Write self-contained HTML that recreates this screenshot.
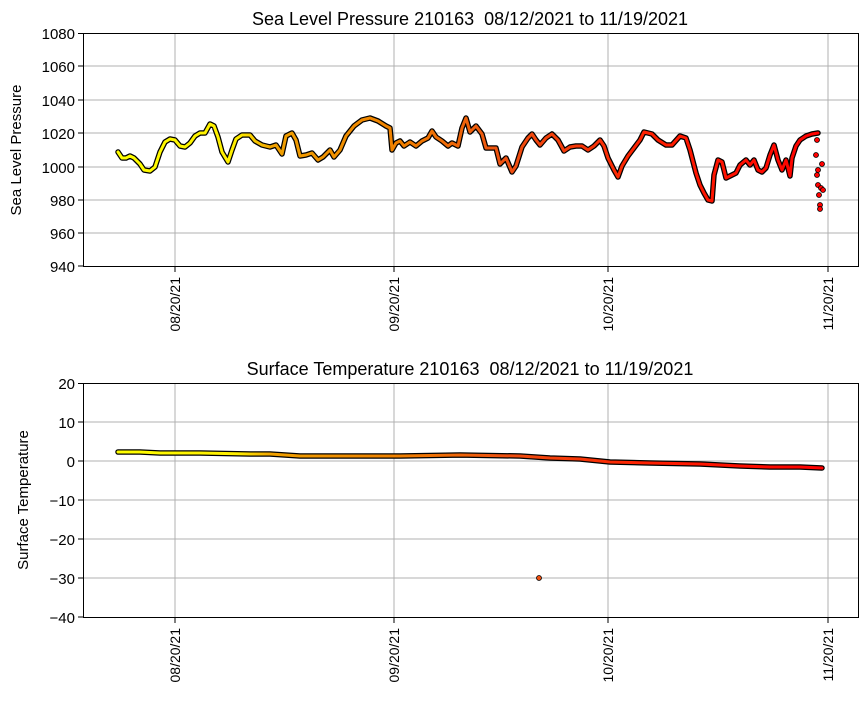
<!DOCTYPE html>
<html><head><meta charset="utf-8"><style>
body{margin:0;background:#fff}
svg text{font-family:"Liberation Sans","DejaVu Sans",sans-serif;fill:#000}
</style></head><body>
<svg width="867" height="700" xmlns="http://www.w3.org/2000/svg">
<defs>
<linearGradient id="g" gradientUnits="userSpaceOnUse" x1="118" y1="0" x2="822" y2="0">
<stop offset="0" stop-color="#ffff00"/><stop offset="0.17" stop-color="#ffee00"/>
<stop offset="0.22" stop-color="#f0a000"/><stop offset="0.4" stop-color="#f08000"/>
<stop offset="0.55" stop-color="#ee5010"/><stop offset="0.75" stop-color="#ff2000"/>
<stop offset="1" stop-color="#ff0000"/></linearGradient>
</defs>
<rect width="867" height="700" fill="#fff"/>
<g stroke="#b0b0b0" stroke-width="1">
<line x1="83" x2="858" y1="66" y2="66"/><line x1="83" x2="858" y1="100" y2="100"/><line x1="83" x2="858" y1="133" y2="133"/><line x1="83" x2="858" y1="167" y2="167"/><line x1="83" x2="858" y1="200" y2="200"/><line x1="83" x2="858" y1="233" y2="233"/>
<line x1="175" x2="175" y1="33" y2="266"/><line x1="394" x2="394" y1="33" y2="266"/><line x1="608" x2="608" y1="33" y2="266"/><line x1="828" x2="828" y1="33" y2="266"/>
<line x1="83" x2="858" y1="422" y2="422"/><line x1="83" x2="858" y1="461" y2="461"/><line x1="83" x2="858" y1="500" y2="500"/><line x1="83" x2="858" y1="539" y2="539"/><line x1="83" x2="858" y1="578" y2="578"/>
<line x1="175" x2="175" y1="383" y2="617"/><line x1="394" x2="394" y1="383" y2="617"/><line x1="608" x2="608" y1="383" y2="617"/><line x1="828" x2="828" y1="383" y2="617"/>
</g>
<g fill="none" stroke-linejoin="round" stroke-linecap="round">
<polyline stroke="#000" stroke-width="5.5" points="118,152 122,158 126,158 130,156 134,158 140,164 144,170 150,171 155,167 160,152 165,142 170,139 175,140 180,146 185,147 190,143 195,136 200,133 205,133 210,124 214,126 218,137 222,152 228,162 232,150 236,139 242,135 250,135 255,141 262,145 270,147 276,145 282,154 286,136 292,133 296,140 300,156 306,155 312,153 318,160 323,157 330,150 334,157 340,150 346,136 354,126 362,120 370,118 378,121 386,126 390,128 392,150 396,143 400,141 404,146 410,142 416,146 422,141 428,138 432,131 436,137 442,141 448,146 452,143 458,146 462,128 466,118 470,132 476,126 482,134 486,148 496,148 500,164 506,158 512,172 516,166 522,147 528,138 532,134 536,140 540,145 546,138 552,134 558,140 564,151 570,147 576,146 582,146 588,150 594,146 600,140 604,146 608,158 614,170 618,177 622,166 628,156 634,148 640,140 644,132 652,134 658,140 666,145 672,145 680,136 686,138 690,150 696,173 700,185 704,193 708,200 712,201 714,175 718,160 722,162 726,178 730,176 736,173 740,165 746,160 750,165 754,160 758,170 762,172 766,168 770,155 774,145 778,160 782,170 786,160 790,176 792,158 796,146 800,140 806,136 812,134 818,133"/>
<polyline stroke="url(#g)" stroke-width="3" points="118,152 122,158 126,158 130,156 134,158 140,164 144,170 150,171 155,167 160,152 165,142 170,139 175,140 180,146 185,147 190,143 195,136 200,133 205,133 210,124 214,126 218,137 222,152 228,162 232,150 236,139 242,135 250,135 255,141 262,145 270,147 276,145 282,154 286,136 292,133 296,140 300,156 306,155 312,153 318,160 323,157 330,150 334,157 340,150 346,136 354,126 362,120 370,118 378,121 386,126 390,128 392,150 396,143 400,141 404,146 410,142 416,146 422,141 428,138 432,131 436,137 442,141 448,146 452,143 458,146 462,128 466,118 470,132 476,126 482,134 486,148 496,148 500,164 506,158 512,172 516,166 522,147 528,138 532,134 536,140 540,145 546,138 552,134 558,140 564,151 570,147 576,146 582,146 588,150 594,146 600,140 604,146 608,158 614,170 618,177 622,166 628,156 634,148 640,140 644,132 652,134 658,140 666,145 672,145 680,136 686,138 690,150 696,173 700,185 704,193 708,200 712,201 714,175 718,160 722,162 726,178 730,176 736,173 740,165 746,160 750,165 754,160 758,170 762,172 766,168 770,155 774,145 778,160 782,170 786,160 790,176 792,158 796,146 800,140 806,136 812,134 818,133"/>
<polyline stroke="#000" stroke-width="5.5" points="118,452 140,452 160,453 200,453 250,454 270,454 300,456 350,456 400,456 460,455 520,456 550,458 580,459 610,462 650,463 700,464 740,466 770,467 800,467 822,468"/>
<polyline stroke="url(#g)" stroke-width="3" points="118,452 140,452 160,453 200,453 250,454 270,454 300,456 350,456 400,456 460,455 520,456 550,458 580,459 610,462 650,463 700,464 740,466 770,467 800,467 822,468"/>
</g>
<g fill="#f00" stroke="#000" stroke-width="0.8">
<circle cx="539" cy="578" r="2.5" fill="#ee5010"/>
<circle cx="817" cy="140" r="2.5"/><circle cx="816" cy="155" r="2.5"/><circle cx="817" cy="175" r="2.5"/><circle cx="818" cy="185" r="2.5"/><circle cx="819" cy="195" r="2.5"/><circle cx="820" cy="205" r="2.5"/><circle cx="820" cy="209" r="2.5"/><circle cx="821" cy="188" r="2.5"/><circle cx="823" cy="190" r="2.5"/><circle cx="822" cy="164" r="2.5"/><circle cx="818" cy="170" r="2.5"/>
</g>
<rect x="83.5" y="33.5" width="775" height="233" fill="none" stroke="#000"/>
<rect x="83.5" y="383.5" width="775" height="234" fill="none" stroke="#000"/>
<g stroke="#000">
<line x1="78" x2="83" y1="33.5" y2="33.5"/><line x1="78" x2="83" y1="66" y2="66"/><line x1="78" x2="83" y1="100" y2="100"/><line x1="78" x2="83" y1="133" y2="133"/><line x1="78" x2="83" y1="167" y2="167"/><line x1="78" x2="83" y1="200" y2="200"/><line x1="78" x2="83" y1="233" y2="233"/><line x1="78" x2="83" y1="266" y2="266"/>
<line x1="175" x2="175" y1="267" y2="272"/><line x1="394" x2="394" y1="267" y2="272"/><line x1="608" x2="608" y1="267" y2="272"/><line x1="828" x2="828" y1="267" y2="272"/>
<line x1="78" x2="83" y1="383.5" y2="383.5"/><line x1="78" x2="83" y1="422" y2="422"/><line x1="78" x2="83" y1="461" y2="461"/><line x1="78" x2="83" y1="500" y2="500"/><line x1="78" x2="83" y1="539" y2="539"/><line x1="78" x2="83" y1="578" y2="578"/><line x1="78" x2="83" y1="617" y2="617"/>
<line x1="175" x2="175" y1="618" y2="623"/><line x1="394" x2="394" y1="618" y2="623"/><line x1="608" x2="608" y1="618" y2="623"/><line x1="828" x2="828" y1="618" y2="623"/>
</g>
<g font-size="15" text-anchor="end">
<text x="75" y="39">1080</text><text x="75" y="72">1060</text><text x="75" y="106">1040</text><text x="75" y="139">1020</text><text x="75" y="173">1000</text><text x="75" y="206">980</text><text x="75" y="239">960</text><text x="75" y="272">940</text>
<text x="75" y="389">20</text><text x="75" y="428">10</text><text x="75" y="467">0</text><text x="75" y="506">−10</text><text x="75" y="545">−20</text><text x="75" y="584">−30</text><text x="75" y="623">−40</text>
</g>
<g font-size="14" text-anchor="end">
<text transform="translate(180,277) rotate(-90)">08/20/21</text><text transform="translate(399,277) rotate(-90)">09/20/21</text><text transform="translate(613,277) rotate(-90)">10/20/21</text><text transform="translate(833,277) rotate(-90)">11/20/21</text>
<text transform="translate(180,628) rotate(-90)">08/20/21</text><text transform="translate(399,628) rotate(-90)">09/20/21</text><text transform="translate(613,628) rotate(-90)">10/20/21</text><text transform="translate(833,628) rotate(-90)">11/20/21</text>
</g>
<g font-size="15" text-anchor="middle">
<text transform="translate(21,150) rotate(-90)">Sea Level Pressure</text>
<text transform="translate(28,500) rotate(-90)">Surface Temperature</text>
</g>
<g font-size="18" text-anchor="middle">
<text x="470" y="25">Sea Level Pressure 210163 &#160;08/12/2021 to 11/19/2021</text>
<text x="470" y="375">Surface Temperature 210163 &#160;08/12/2021 to 11/19/2021</text>
</g>
</svg>
</body></html>
